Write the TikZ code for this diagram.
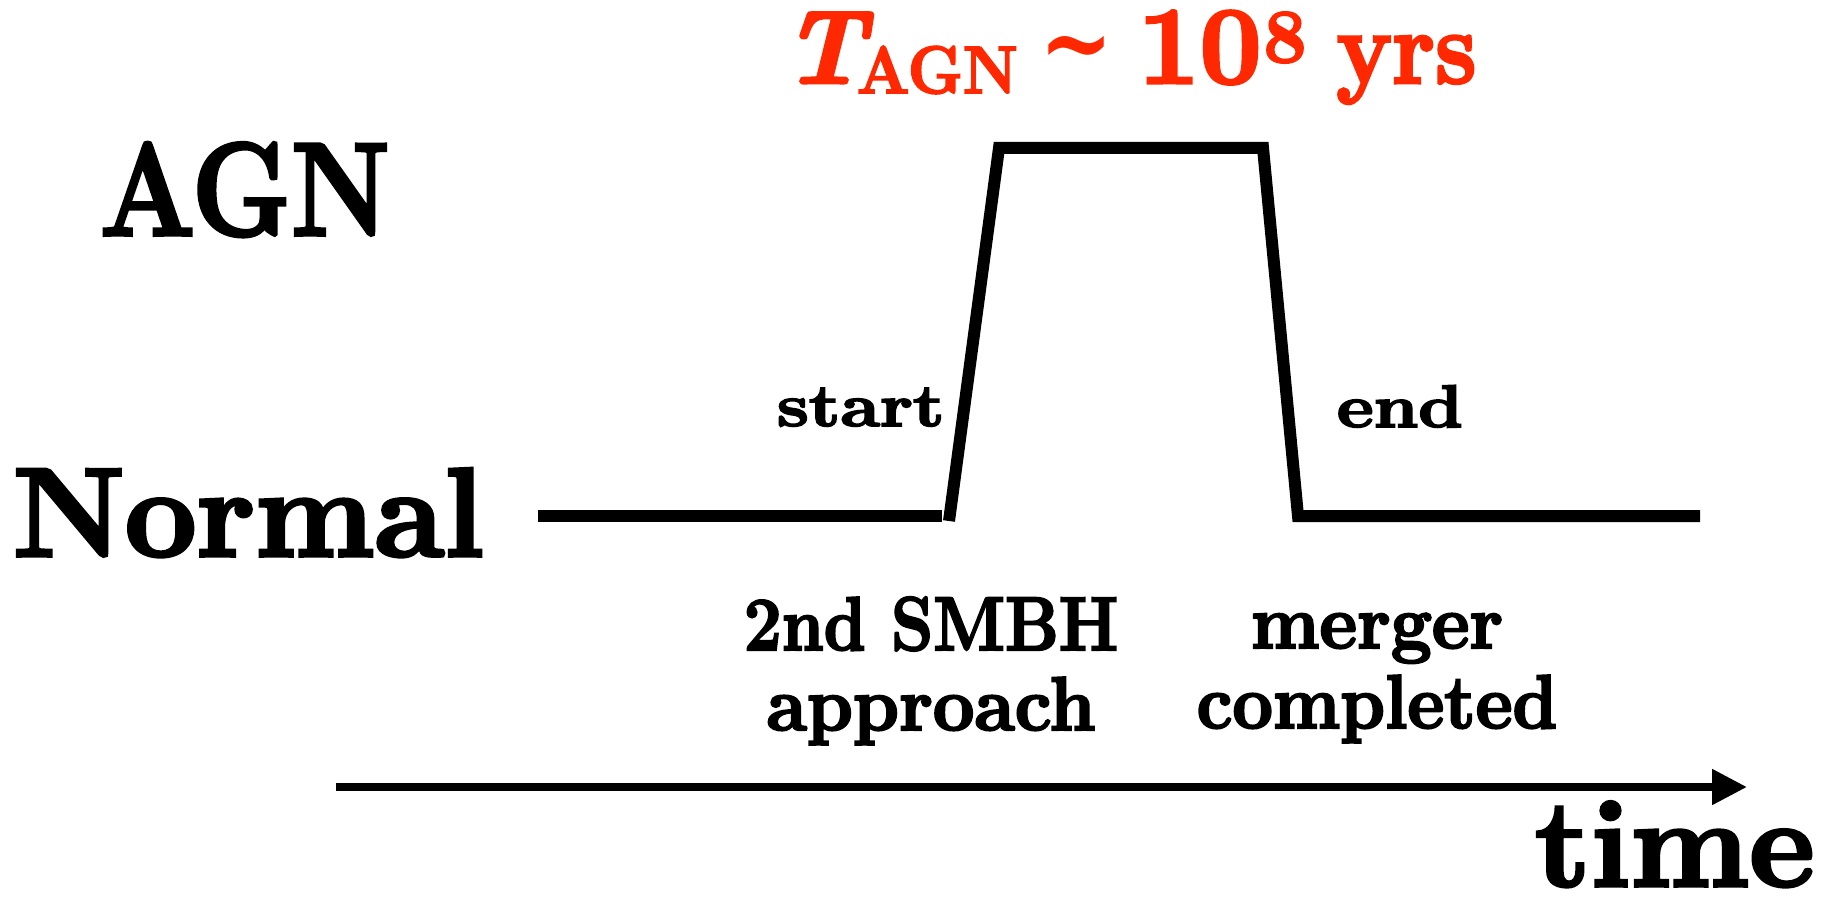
\documentclass[tikz,border=0pt]{standalone}
\usepackage{fontspec}
\usepackage{graphicx}
\usetikzlibrary{arrows.meta}
\newfontfamily\hv{lmroman12-bold.otf}[FakeBold=3]
\newfontfamily\hvit{lmroman10-bolditalic.otf}[FakeBold=3]
\newfontfamily\tildefont{DejaVu Serif}
\definecolor{agnred}{RGB}{255,40,0}
\newcommand{\myfs}[1]{\fontsize{#1}{#1}\selectfont}
\tikzset{
  sig/.style={line width=6pt, line join=miter, line cap=butt},
  timeaxis/.style={line width=4pt, -{Triangle[length=17.5pt,width=17pt]}},
  lbl/.style={inner sep=0pt, outer sep=0pt, font=\hv},
}
\begin{document}
\begin{tikzpicture}[x=0.5pt,y=-0.5pt]
\useasboundingbox (0,0) rectangle (1823,898);
% signal
\coordinate (a0) at (538,516);
\coordinate (a1) at (942,516);
\coordinate (b0) at (949,521);
\coordinate (b1) at (999,148);
\coordinate (b2) at (1263,148);
\coordinate (b3) at (1298,516);
\coordinate (b4) at (1700,516);
\draw[sig] (a0) -- (a1);
\draw[sig] (b0) -- (b1) -- (b2) -- (b3) -- (b4);
% time axis
\coordinate (t0) at (336,787);
\coordinate (t1) at (1747,787);
\draw[timeaxis] (t0) -- (t1);
% labels
\node[lbl, anchor=base west] (agn) at (100,235) {\scalebox{0.85}[1]{\myfs{66}AGN}};
\node[lbl, anchor=base west] (normal) at (13,556) {\scalebox{1.01}[1]{\myfs{63}Normal}};
\node[lbl, anchor=base west] (start) at (777,426) {\scalebox{1.2}[1]{\myfs{30}start}};
\node[lbl, anchor=base west] (end) at (1337,427) {\scalebox{1.19}[1]{\myfs{30}end}};
\node[lbl, anchor=base] (smbh) at (931,650) {\fontsize{38}{40}\selectfont\begin{tabular}[t]{@{}c@{}}\scalebox{0.886}[1]{2nd SMBH}\\\scalebox{0.97}[1]{approach}\end{tabular}};
\node[lbl, anchor=base] (merge) at (1377,648) {\fontsize{38}{40}\selectfont\begin{tabular}[t]{@{}c@{}}\scalebox{0.963}[1]{merger}\\\scalebox{0.944}[1]{completed}\end{tabular}};
\node[lbl, anchor=base west] (time) at (1535,886) {\scalebox{1.024}[1]{\myfs{62}time}};
% title
\node[lbl, anchor=base west, text=agnred] (tagn) at (782,83) {%
{\hvit\myfs{52}T}%
\kern-4pt\raisebox{-5pt}{\scalebox{0.93}[1]{\myfs{33.5}AGN}}%
\hspace{11pt}\raisebox{2pt}{\scalebox{0.85}[1]{\tildefont\bfseries\myfs{52}\char"7E}}%
\hspace{12pt}{\myfs{55}10}%
\hspace{1pt}\raisebox{10.5pt}{\myfs{38}8}%
\hspace{15pt}\scalebox{0.9}[1]{\myfs{52}yrs}};
\end{tikzpicture}
\end{document}
